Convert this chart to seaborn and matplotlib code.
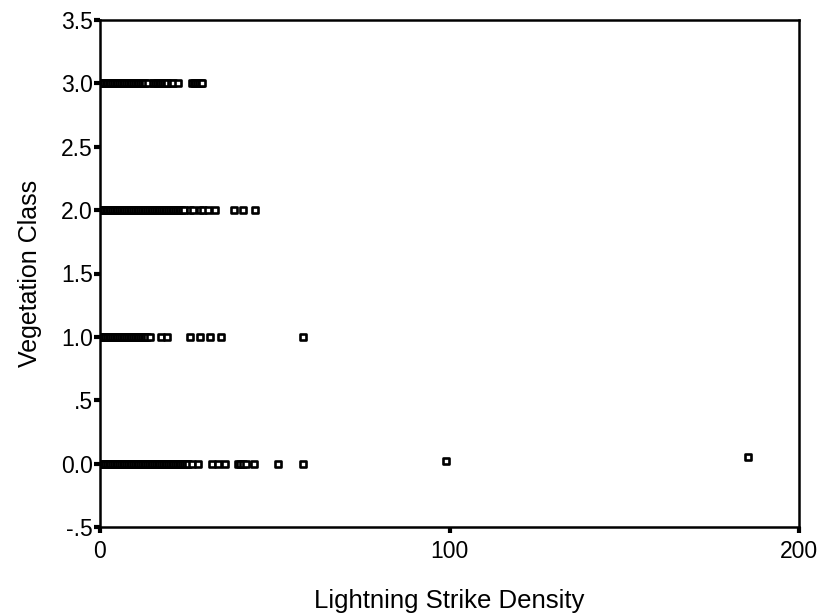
"""
    Scatter of vegetation class against lightning strike density
"""
import pandas as pd
import seaborn as sns
import matplotlib.pyplot as plt

# density values, one list per vegetation class
class3_x = [0, 0.4, 0.8, 1.2, 1.6, 2, 2.5, 3, 3.5, 4, 4.5, 5, 5.5, 6, 6.5, 7, 7.5, 8,
            8.5, 9, 9.5, 10, 10.5, 11, 11.5, 12, 12.5, 13, 13.7,
            15.3, 15.8, 16.3, 16.8, 17.3, 17.8, 18.3, 18.8, 19.3, 20.3, 21, 22.3,
            26.3, 26.8, 27.3, 27.8, 28.3, 28.8, 29.2]
class2_x = [0, 0.4, 0.8, 1.2, 1.6, 2, 2.5, 3, 3.5, 4, 4.5, 5, 5.5, 6, 6.5, 7, 7.5, 8,
            8.5, 9, 9.5, 10, 10.5, 11, 11.5, 12, 12.5, 13, 13.5, 14, 14.5, 15, 15.5,
            16, 16.5, 17, 17.5, 18, 18.5, 19, 19.5, 20, 20.5, 21, 21.5, 22, 22.5,
            23, 23.5, 24, 25.8, 26.6, 28.6, 29.4, 31, 33, 38.4, 41, 44.3]
class1_x = [0, 0.5, 1, 1.5, 2, 2.5, 3, 3.5, 4, 4.5, 5, 5.5, 6, 6.5, 7, 7.5, 8, 8.5,
            9, 9.5, 10, 10.5, 11, 11.5, 12, 12.5, 13, 13.5, 14.2, 17.5, 19.2,
            25.8, 28.6, 31.5, 34.6, 58]
class0_x = [0, 1, 1.5, 2, 2.5, 3, 3.5, 4, 4.5, 5, 5.5, 6, 6.5, 7, 7.5, 8, 8.5, 9,
            9.5, 10, 10.5, 11, 11.5, 12, 12.5, 13, 13.5, 14, 14.5, 15, 15.5, 16,
            16.5, 17, 17.5, 18, 18.5, 19, 19.5, 20, 20.5, 21, 21.5, 22, 22.5, 23,
            23.5, 24, 24.5, 25.2, 26.3, 28, 32, 33.8, 35.8, 39.5, 40.2, 41, 41.8,
            44, 51, 58]
outlier_x = [99, 185.5]
outlier_y = [0.02, 0.05]

yticks = [-0.5, 0, 0.5, 1, 1.5, 2, 2.5, 3, 3.5]
ytick_labels = ['-.5', '0.0', '.5', '1.0', '1.5', '2.0', '2.5', '3.0', '3.5']
xticks = [0, 100, 200]

df = pd.DataFrame({
    'density': class3_x + class2_x + class1_x + class0_x + outlier_x,
    'veg': [3] * len(class3_x) + [2] * len(class2_x) + [1] * len(class1_x)
           + [0] * len(class0_x) + outlier_y,
})

sns.set_style('white')
plt.rcParams['font.family'] = ['Liberation Sans', 'DejaVu Sans']

fig = plt.figure(figsize=(8.23, 6.16), dpi=100)
ax = fig.add_axes([100 / 823, 1 - 527 / 616, 699 / 823, 507 / 616])

sns.scatterplot(data=df, x='density', y='veg', ax=ax, marker='s', s=23,
                facecolor='white', edgecolor='black', linewidth=1.9)

ax.set_xlim(0, 200)
ax.set_ylim(-0.5, 3.5)
ax.set_xticks(xticks)
ax.set_yticks(yticks)
ax.set_yticklabels(ytick_labels)
ax.tick_params(axis='both', direction='out', length=4, width=3, color='black',
               labelsize=16.5, labelcolor='black', left=True, bottom=True)
ax.tick_params(axis='x', pad=5)
ax.tick_params(axis='y', pad=1)
for s in ax.spines.values():
    s.set_color('black')
    s.set_linewidth(1.8)

ax.set_xlabel('Lightning Strike Density', fontsize=18.5, labelpad=19, color='black')
ax.set_ylabel('Vegetation Class', fontsize=18, labelpad=14, color='black')

fig.savefig('out.png', dpi=100)
